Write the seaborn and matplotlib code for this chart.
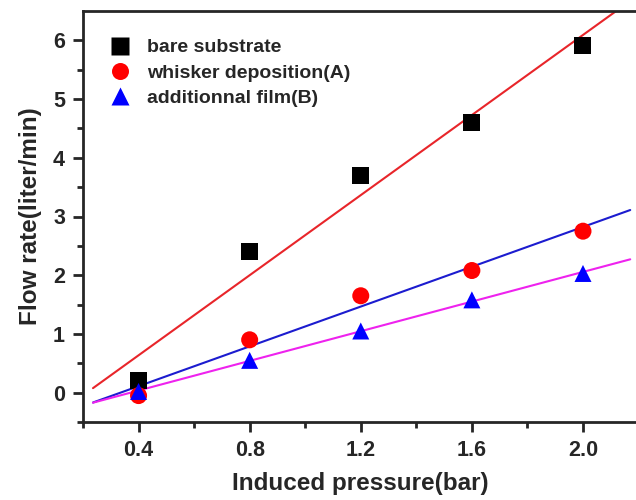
import numpy as np
import pandas as pd
import seaborn as sns
import matplotlib.pyplot as plt

# data
pressure = [0.4, 0.8, 1.2, 1.6, 2.0]
bare = [0.2, 2.4, 3.7, 4.6, 5.92]
whisker = [-0.05, 0.9, 1.65, 2.08, 2.75]
film = [0.02, 0.55, 1.05, 1.58, 2.03]
labels = ["bare substrate", "whisker deposition(A)", "additionnal film(B)"]
x_ticks = [0.4, 0.8, 1.2, 1.6, 2.0]
y_ticks = [0, 1, 2, 3, 4, 5, 6]

df = pd.DataFrame({
    "pressure": pressure * 3,
    "flow": bare + whisker + film,
    "series": [labels[0]] * 5 + [labels[1]] * 5 + [labels[2]] * 5,
})

sns.set_style("ticks")
plt.rcParams["font.family"] = ["Liberation Sans", "DejaVu Sans"]
plt.rcParams["font.weight"] = "bold"

fig = plt.figure(figsize=(6.36, 5.0), dpi=100)
ax = fig.add_axes([0.1305, 0.156, 0.8735, 0.822])

# linear fits drawn first, under the markers
fit_x = np.array([0.236, 2.17])
for ys, col in [(bare, "#e8252a"), (whisker, "#1c1ccf"), (film, "#ee22ee")]:
    k, b = np.polyfit(pressure, ys, 1)
    ax.plot(fit_x, k * fit_x + b, color=col, lw=1.5, zorder=2)

sns.scatterplot(data=df, x="pressure", y="flow", hue="series", style="series",
                hue_order=labels, style_order=labels,
                palette=["black", "#ff0000", "#0000ff"],
                markers=["s", "o", "^"], s=150, edgecolor="none",
                ax=ax, zorder=3)

ax.set_xlim(0.2, 2.2)
ax.set_ylim(-0.5, 6.5)
ax.set_xticks(x_ticks)
ax.set_xticklabels([f"{v:.1f}" for v in x_ticks])
ax.set_yticks(y_ticks)
ax.set_xticks([0.2, 0.6, 1.0, 1.4, 1.8], minor=True)
ax.set_yticks([-0.5, 0.5, 1.5, 2.5, 3.5, 4.5, 5.5], minor=True)
ax.tick_params(which="major", length=7, width=2, labelsize=15.5, pad=6)
ax.tick_params(which="minor", length=4, width=2)
ax.tick_params(top=False, right=False)
for lab in ax.get_xticklabels() + ax.get_yticklabels():
    lab.set_fontweight("bold")
for side in ["left", "bottom", "top"]:
    ax.spines[side].set_linewidth(2)
ax.spines["right"].set_visible(False)

ax.set_xlabel("Induced pressure(bar)", fontsize=17.5, fontweight="bold", labelpad=8)
ax.set_ylabel("Flow rate(liter/min)", fontsize=17.5, fontweight="bold", labelpad=8)

leg = ax.legend(loc="upper left", bbox_to_anchor=(0.0, 0.975), frameon=False,
                fontsize=14, handletextpad=0.4, labelspacing=0.4,
                markerscale=1.0)
for t in leg.get_texts():
    t.set_fontweight("bold")

fig.savefig("out.png", dpi=100)
